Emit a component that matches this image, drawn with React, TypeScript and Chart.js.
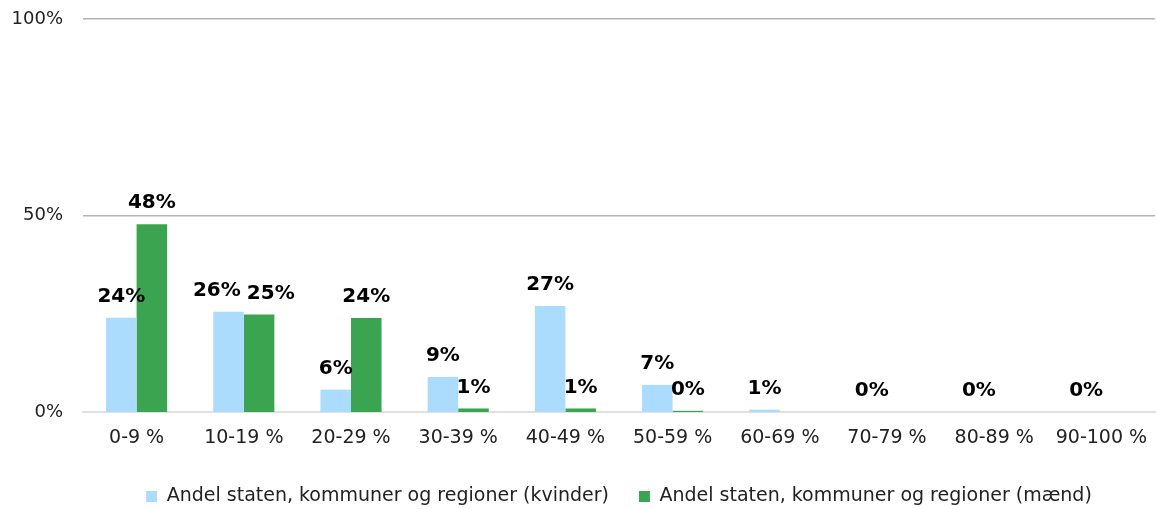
import React, { useEffect, useRef } from "react";
import { Chart, registerables } from "chart.js";

Chart.register(...registerables);

const categories = ["0-9 %", "10-19 %", "20-29 %", "30-39 %", "40-49 %", "50-59 %", "60-69 %", "70-79 %", "80-89 %", "90-100 %"];
const womenValues = [24.0, 25.5, 5.7, 8.9, 27.0, 6.9, 0.6, 0, 0, 0];
const menValues = [47.8, 24.8, 23.9, 0.9, 0.9, 0.3, 0, 0, 0, 0];
const yTicks = [0, 50, 100];
const seriesNames = [
  "Andel staten, kommuner og regioner (kvinder)",
  "Andel staten, kommuner og regioner (mænd)",
];

const FONT = "'DejaVu Sans', Verdana, sans-serif";
const LABEL_SIZE = 20;

const labelPlugin = {
  id: "barLabels",
  afterDatasetsDraw(chart: any) {
    const ctx = chart.ctx;
    ctx.save();
    ctx.font = `bold ${LABEL_SIZE}px ${FONT}`;
    ctx.fillStyle = "#000";
    ctx.textAlign = "center";
    ctx.textBaseline = "middle";
    const n = chart.data.labels.length;
    for (let i = 0; i < n; i++) {
      const items: any[] = [];
      chart.data.datasets.forEach((ds: any, di: number) => {
        const v = ds.data[i];
        if (di === 1 && v <= 0) return;
        const el = chart.getDatasetMeta(di).data[i];
        const text = Math.round(v) + "%";
        items.push({ text, x: el.x, y: el.y - 21, w: ctx.measureText(text).width });
      });
      if (items.length === 2) {
        const [a, b] = items;
        const need = a.w / 2 + b.w / 2 + 6;
        if (Math.abs(a.y - b.y) < LABEL_SIZE && b.x - a.x < need) {
          const push = (need - (b.x - a.x)) / 2;
          a.x -= push;
          b.x += push;
        }
      }
      items.forEach((it) => ctx.fillText(it.text, it.x, it.y));
    }
    ctx.restore();
  },
};

export default function App() {
  const ref = useRef<HTMLCanvasElement>(null);
  useEffect(() => {
    if (!ref.current) return;
    const chart = new Chart(ref.current, {
      type: "bar",
      data: {
        labels: categories,
        datasets: [
          { label: seriesNames[0], data: womenValues, backgroundColor: "#acdcfd", categoryPercentage: 0.57, barPercentage: 1.0 },
          { label: seriesNames[1], data: menValues, backgroundColor: "#3aa450", categoryPercentage: 0.57, barPercentage: 1.0 },
        ],
      },
      options: {
        animation: false,
        responsive: false,
        maintainAspectRatio: false,
        layout: { padding: { top: 19, bottom: 2, left: 0, right: 2 } },
        plugins: {
          legend: {
            position: "bottom",
            fullSize: false,
            maxHeight: 50,
            labels: {
              font: { family: FONT, size: 19 },
              color: "#222",
              boxWidth: 11,
              boxHeight: 11,
              padding: 30,
            },
          },
          tooltip: { enabled: false },
        },
        scales: {
          x: {
            grid: { display: false, drawTicks: false },
            border: { display: true, color: "#e0e0e0", width: 2 },
            ticks: { font: { family: FONT, size: 19 }, color: "#222", padding: 15, maxRotation: 0, autoSkip: false },
            afterFit(scale: any) {
              scale.height = 45;
              scale.paddingLeft = 0;
              scale.paddingRight = 0;
            },
          },
          y: {
            min: 0,
            max: 100,
            afterBuildTicks(scale: any) { scale.ticks = yTicks.map((v) => ({ value: v })); },
            grid: {
              color: (c: any) => (c.tick && c.tick.value === 0 ? "#e0e0e0" : "#b3b3b3"),
              lineWidth: (c: any) => (c.tick && c.tick.value === 0 ? 0 : 1.5),
              drawTicks: false,
            },
            border: { display: false },
            ticks: {
              font: { family: FONT, size: 18 },
              color: "#222",
              padding: 20,
              callback: (v: any) => v + "%",
            },
            afterFit(scale: any) {
              scale.width = 83;
              scale.paddingTop = 11;
              scale.paddingBottom = 11;
            },
          },
        },
      },
      plugins: [labelPlugin],
    });
    return () => chart.destroy();
  }, []);
  return (
    <div style={{ position: "fixed", left: 0, top: 0, width: 1157, height: 509, background: "#fff" }}>
      <canvas ref={ref} width={1157} height={509} />
    </div>
  );
}
